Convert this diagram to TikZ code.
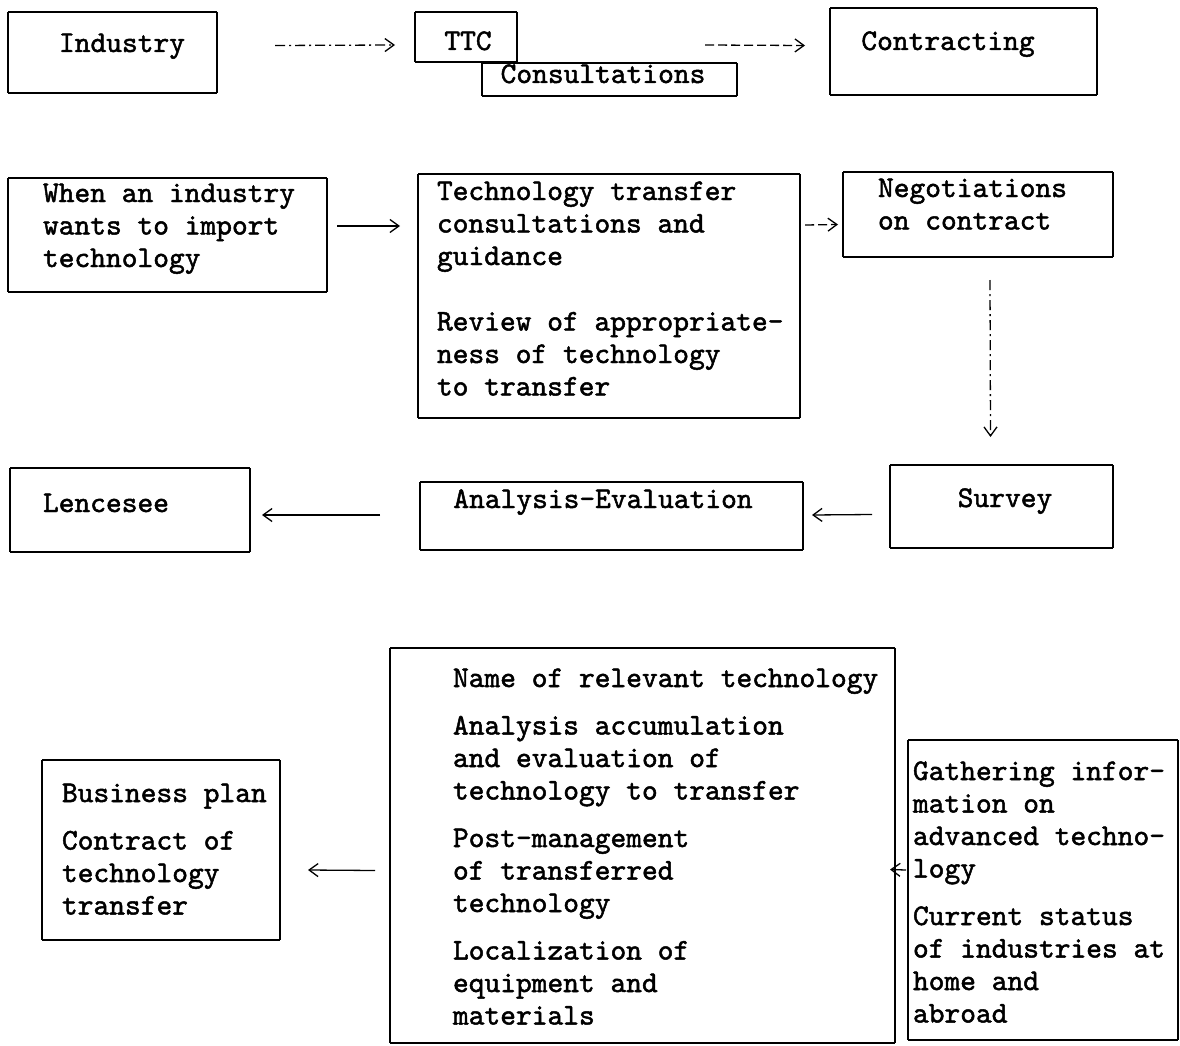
\documentclass[tikz,border=0pt]{standalone}
\usepackage{fontspec}
\newfontfamily\twf{lmmono10-regular.otf}[FakeBold=1.6]
\usetikzlibrary{arrows.meta,calc}
\tikzset{
  x=1pt, y=-1pt,
  frame/.style={draw=none, inner sep=0pt, outer sep=0pt, anchor=north west, rectangle},
  txt/.style={inner sep=0pt, outer sep=0pt, align=left, font=\tw},
  mtxt/.style={txt, anchor=north west},
  hedge/.style={line width=2.4pt},
  vedge/.style={line width=1.3pt},
  conn/.style={line width=1.3pt, -{Straight Barb[length=9pt,width=13pt,line width=1.3pt]}},
  dsh/.style={dash pattern=on 9pt off 4pt},
  dshdot/.style={dash pattern=on 10pt off 4pt on 2pt off 4pt},
}
\newcommand{\tw}{\twf\fontsize{30}{32.5}\selectfont}
\newcommand{\fl}{\rule{0pt}{21pt}}
\newcommand{\tframe}[1]{%
  \draw[hedge] (#1.north west) -- (#1.north east);
  \draw[hedge] (#1.south west) -- (#1.south east);
  \draw[vedge] (#1.north west) -- (#1.south west);
  \draw[vedge] (#1.north east) -- (#1.south east);}
\begin{document}
\begin{tikzpicture}
\useasboundingbox[fill=white] (0,0) rectangle (1180,1046);

% ---- frames
\node[frame, minimum width=209pt, minimum height=81pt]  (ind)   at (8,12)   {};
\node[frame, minimum width=102pt, minimum height=50pt]  (ttc)   at (415,12) {};
\node[frame, minimum width=255pt, minimum height=33pt]  (cons)  at (482,63) {};
\node[frame, minimum width=267pt, minimum height=87pt]  (contr) at (830,8)  {};
\node[frame, minimum width=319pt, minimum height=114pt] (when)  at (8,178)  {};
\node[frame, minimum width=382pt, minimum height=244pt] (tech)  at (418,174) {};
\node[frame, minimum width=270pt, minimum height=85pt]  (neg)   at (843,172) {};
\node[frame, minimum width=240pt, minimum height=84pt]  (lic)   at (10,468) {};
\node[frame, minimum width=383pt, minimum height=68pt]  (ana)   at (420,482) {};
\node[frame, minimum width=223pt, minimum height=83pt]  (sur)   at (890,465) {};
\node[frame, minimum width=238pt, minimum height=180pt] (bus)   at (42,760) {};
\node[frame, minimum width=505pt, minimum height=395pt] (big)   at (390,648) {};
\node[frame, minimum width=270pt, minimum height=300pt] (gat)   at (908,740) {};
\foreach \n in {ind,ttc,cons,contr,when,tech,neg,lic,ana,sur,bus,big,gat}{\tframe{\n}}

% ---- texts
\node[txt, anchor=base] (ind-t)   at (122,52) {Industry};
\node[txt, anchor=base] (ttc-t)   at (468,50) {TTC};
\node[txt, anchor=base] (cons-t)  at (603,83) {Consultations};
\node[txt, anchor=base] (contr-t) at (948,50) {Contracting};
\node[mtxt] (when-t) at (43,181) {\fl When an industry\\wants to import\\technology};
\node[mtxt] (tech-t) at (437,179) {\fl Technology transfer\\consultations and\\guidance\\[33pt]Review of appropriate-\\ness of technology\\to transfer};
\node[mtxt] (neg-t) at (878,176) {\fl Negotiations\\on contract};
\node[txt, anchor=base] (lic-t) at (106,512) {Lencesee};
\node[txt, anchor=base] (ana-t) at (603,508) {Analysis-Evaluation};
\node[txt, anchor=base] (sur-t) at (1005,507) {Survey};
\node[mtxt] (bus-t) at (62,781) {\fl Business plan\\[15pt]Contract of\\technology\\transfer};
\node[mtxt] (big-t) at (453,666) {\fl Name of relevant technology\\[15pt]Analysis accumulation\\and evaluation of\\technology to transfer\\[15pt]Post-management\\of transferred\\technology\\[15pt]Localization of\\equipment and\\materials};
\node[mtxt] (gat-t) at (913,759) {\fl Gathering infor-\\mation on\\advanced techno-\\logy\\[15pt]Current status\\of industries at\\home and\\abroad};

% ---- connectors
\draw[conn, dshdot] ($(ind.east)+(58,-7)$) -- ($(ttc.west)+(-20,8)$);
\draw[conn, dsh] ($(ttc.east)+(188,8)$) -- ($(contr.west)+(-25,-6)$);
\draw[conn] ($(when.east)+(10,-9)$) -- ($(tech.west)+(-18,-70)$);
\draw[conn, dsh] ($(tech.east)+(5,-71)$) -- ($(neg.west)+(-5,10)$);
\draw[conn, dshdot] ($(neg.south)+(12,23)$) -- ($(sur.north)+(-11,-28)$);
\draw[conn] ($(sur.west)+(-18,8)$) -- ($(ana.east)+(9,-1)$);
\draw[conn] ($(ana.west)+(-40,-1)$) -- ($(lic.east)+(12,5)$);
\draw[conn] ($(big.west)+(-15,25)$) -- ($(bus.east)+(28,20)$);
\draw[conn] ($(gat.west)+(-2,-20)$) -- ($(big.east)+(-5,24)$);
\end{tikzpicture}
\end{document}
